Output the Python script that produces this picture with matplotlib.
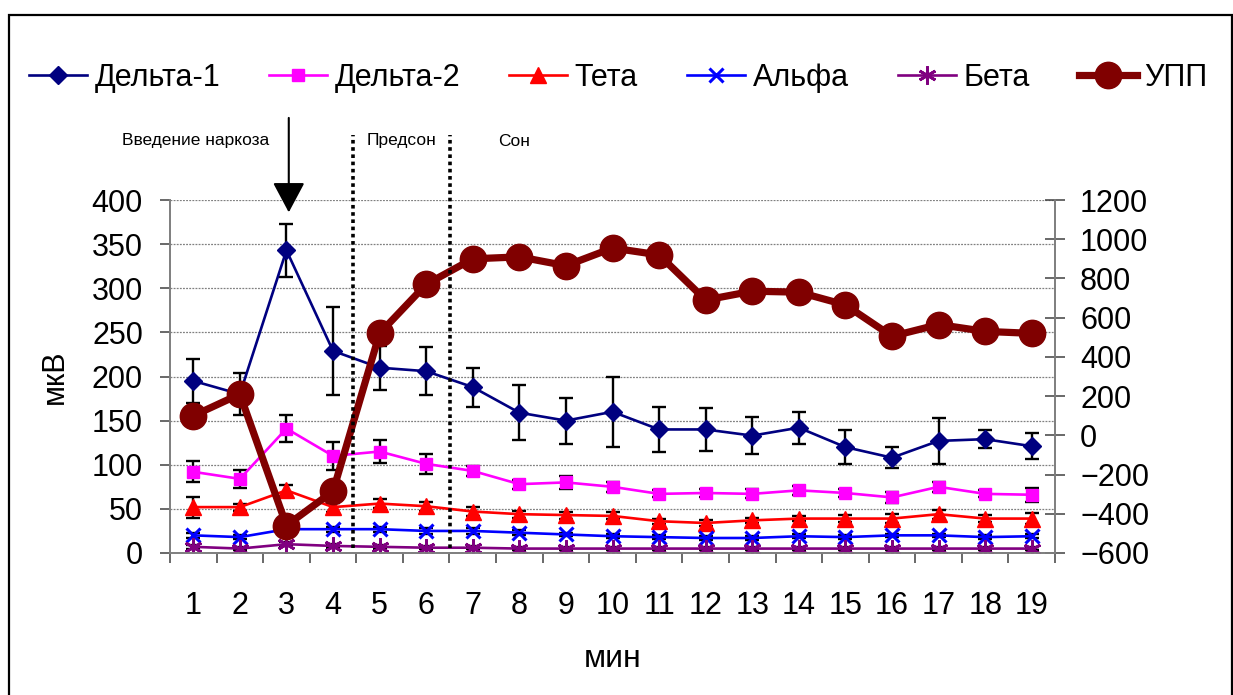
import matplotlib

matplotlib.use("Agg")
import matplotlib.pyplot as plt
from matplotlib.patches import Rectangle
import numpy as np

plt.rcParams["font.family"] = ["Liberation Sans", "DejaVu Sans"]

minutes = list(range(1, 20))

delta1 = [195, 180, 343, 229, 210, 206, 188, 159, 150, 160, 140, 140, 133, 142, 120, 108, 127, 129, 121]
delta1_err = [25, 24, 30, 50, 25, 27, 22, 31, 26, 40, 25, 24, 21, 18, 19, 12, 26, 10, 15]
delta2 = [92, 84, 141, 110, 115, 101, 93, 78, 80, 75, 67, 68, 67, 71, 68, 63, 75, 67, 66]
delta2_err = [12, 10, 15, 16, 13, 11, 6, 5, 7, 6, 4, 5, 5, 5, 4, 6, 6, 4, 8]
theta = [52, 52, 71, 52, 56, 53, 47, 44, 43, 42, 36, 34, 37, 39, 39, 39, 44, 39, 39]
theta_err = [12, 4, 6, 5, 5, 5, 5, 4, 4, 4, 3, 3, 3, 3, 4, 5, 5, 4, 6]
alpha = [20, 18, 27, 27, 27, 25, 25, 23, 21, 19, 18, 17, 17, 19, 18, 20, 20, 18, 19]
alpha_err = [3, 2, 3, 3, 3, 3, 3, 3, 2, 2, 2, 2, 2, 2, 2, 2, 2, 2, 2]
beta = [7, 5, 10, 8, 7, 6, 6, 5, 5, 5, 5, 5, 5, 5, 5, 5, 5, 5, 5]
beta_err = [2, 2, 2, 2, 2, 2, 2, 2, 2, 2, 2, 2, 2, 2, 2, 2, 2, 2, 2]
upp = [100, 210, -460, -285, 520, 770, 900, 910, 865, 955, 920, 690, 735, 730, 665, 505, 565, 530, 520]

W, H = 1233, 695
fig = plt.figure(figsize=(W / 100, H / 100), dpi=100)
ax = fig.add_axes([170 / W, 1 - 553 / H, (1055 - 170) / W, (553 - 200) / H])
ax2 = ax.twinx()

x = np.array(minutes)
series = [
    ("Дельта-1", delta1, delta1_err, "#000080", dict(marker="D", ms=9)),
    ("Дельта-2", delta2, delta2_err, "#FF00FF", dict(marker="s", ms=9)),
    ("Тета", theta, theta_err, "#FF0000", dict(marker="^", ms=11)),
    ("Альфа", alpha, alpha_err, "#0000FF", dict(marker="x", ms=10, mew=2.2)),
    ("Бета", beta, beta_err, "#800080", dict(marker=(6, 2, 0), ms=13, mew=2)),
]
handles = []
for name, vals, err, color, mk in series:
    ax.errorbar(x, vals, yerr=err, fmt="none", ecolor="black", elinewidth=1.7,
                capsize=5, capthick=1.7, zorder=2)
    (ln,) = ax.plot(x, vals, color=color, lw=1.9, mfc=color, mec=color, label=name,
                    zorder=3, **mk)
    handles.append(ln)

(ln,) = ax2.plot(x, upp, color="#800000", lw=5.2, marker="o", ms=19, label="УПП", zorder=3)
handles.append(ln)

ax.set_xlim(0.5, 19.5)
ax.set_ylim(0, 400)
ax.set_yticks(np.arange(0, 401, 50))
ax2.set_ylim(-600, 1200)
ax2.set_yticks(np.arange(-600, 1201, 200))

ax.set_xticks(np.arange(0.5, 19.6, 1))
ax.set_xticklabels([])
ax.set_xticks(x, minor=True)
ax.set_xticklabels([str(m) for m in minutes], minor=True)
ax.tick_params(axis="x", which="major", direction="out", length=7.5, width=1.1, color="#404040")
ax.tick_params(axis="x", which="minor", length=0, pad=27, labelsize=22)
ax.tick_params(axis="y", direction="out", length=7.5, width=1.1, color="#404040",
               pad=12, labelsize=22)
ax2.tick_params(axis="y", direction="inout", length=14, width=1.1, color="#404040",
                pad=11, labelsize=22)

ax.yaxis.grid(True, color="#808080", ls=(0, (1.5, 1)), lw=0.9)
for a in (ax, ax2):
    a.spines["top"].set_visible(False)
    for s in ("left", "right", "bottom"):
        a.spines[s].set_color("#808080")
        a.spines[s].set_linewidth(1.3)
    a.patch.set_visible(False)

ax.set_ylabel("мкВ", fontsize=22, labelpad=16)
ax.set_xlabel("мин", fontsize=23, labelpad=17)

# phase markers
for xv in (4.42, 6.52):
    ax2.plot([xv, xv], [-574, 1531], color="black", lw=2.6, ls=(0, (1, 1)),
             clip_on=False, zorder=5)
ax.annotate("", xy=(3.05, 386), xytext=(3.05, 493), annotation_clip=False,
            arrowprops=dict(arrowstyle="-|>,head_length=0.75,head_width=0.4",
                            mutation_scale=25, color="black", lw=1.5, shrinkA=0, shrinkB=0))
fig.text(196 / W, 1 - 141 / H, "Введение наркоза", fontsize=12.5, ha="center", va="center")
fig.text(401 / W, 1 - 141 / H, "Предсон", fontsize=12.5, ha="center", va="center")
fig.text(514 / W, 1 - 141 / H, "Сон", fontsize=12.5, ha="center", va="center")

fig.legend(handles=handles, loc="center", bbox_to_anchor=(618 / W, 1 - 78 / H), ncol=6,
           frameon=False, fontsize=22, handlelength=1.9, handletextpad=0.25,
           columnspacing=1.6, borderpad=0)

fig.patches.append(Rectangle((9 / W, -0.1), (1232 - 9) / W, 1.1 - 15 / H,
                             transform=fig.transFigure, fill=False, ec="black", lw=1.6))

fig.savefig("out.png", dpi=100)
